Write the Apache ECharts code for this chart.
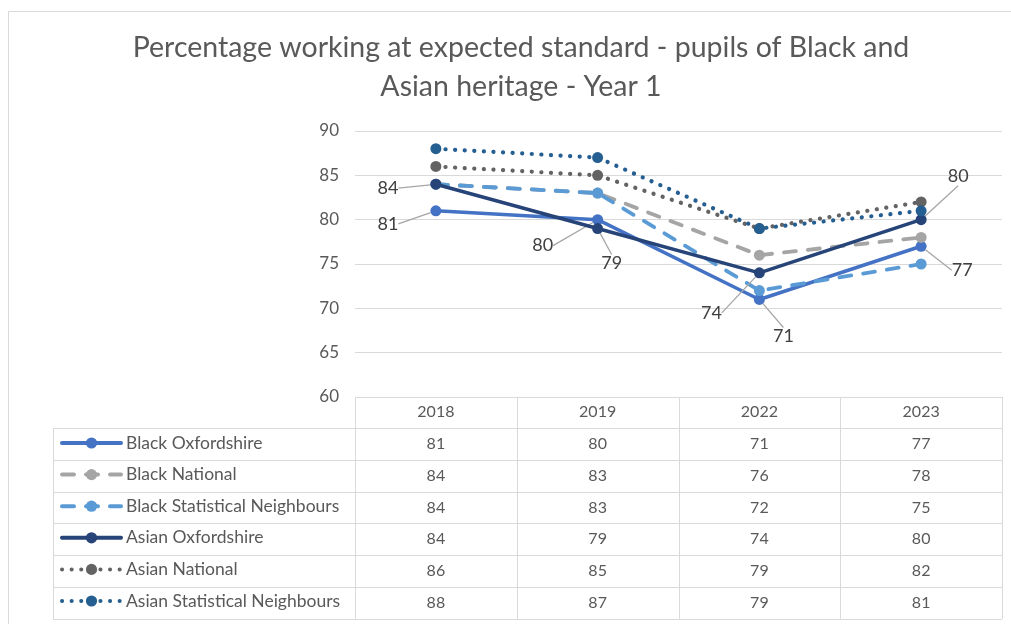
<!DOCTYPE html>
<html><head><meta charset="utf-8">
<script src="https://cdn.jsdelivr.net/npm/echarts@6/dist/echarts.min.js"></script>
<style>html,body{margin:0;padding:0;background:#fff}#c{width:1011px;height:624px}</style>
</head><body><div id="c"></div>
<script>
// ---- data ----
const categories = ['2018', '2019', '2022', '2023'];
const seriesNames = ['Black Oxfordshire', 'Black National', 'Black Statistical Neighbours',
  'Asian Oxfordshire', 'Asian National', 'Asian Statistical Neighbours'];
const blackOxfordshire = [81, 80, 71, 77];
const blackNational = [84, 83, 76, 78];
const blackStatNeighbours = [84, 83, 72, 75];
const asianOxfordshire = [84, 79, 74, 80];
const asianNational = [86, 85, 79, 82];
const asianStatNeighbours = [88, 87, 79, 81];
const yMin = 60, yMax = 90, yStep = 5;
const titleLines = ['Percentage working at expected standard - pupils of Black and', 'Asian heritage - Year 1'];

// ---- styles ----
const FONT = 'Lato, "Noto Sans", sans-serif';
const allData = [blackOxfordshire, blackNational, blackStatNeighbours, asianOxfordshire, asianNational, asianStatNeighbours];
const colors = ['#4472C4', '#A5A5A5', '#5B9BD5', '#264478', '#636363', '#255E91'];
const lineTypes = ['solid', [12, 12], [12, 12], 'solid', [0.1, 9.5], [0.1, 9.5]];
const lineWidths = [3.5, 3.8, 3.8, 3.5, 4.2, 4.2];
const caps = ['round', 'round', 'round', 'round', 'round', 'round'];
// label offsets (dx, dy from point) for labelled series
const labelOffsets = {
  0: [[-48, 13], [-55, 26], [24, 37], [41, 24]],
  3: [[-48, 4], [14, 35], [-48, 40], [37, -43]]
};

const chart = echarts.init(document.getElementById('c'), null, {renderer: 'canvas'});

const series = allData.map((d, i) => {
  const s = {
    name: seriesNames[i],
    type: 'line',
    data: d,
    z: 2 + i,
    symbol: 'circle',
    symbolSize: 11,
    showAllSymbol: true,
    color: colors[i],
    itemStyle: {color: colors[i]},
    lineStyle: {color: colors[i], width: lineWidths[i], type: lineTypes[i], cap: caps[i], join: 'round'},
    emphasis: {disabled: true},
    label: {show: false}
  };
  if (labelOffsets[i]) {
    const offs = labelOffsets[i];
    s.label = {show: true, position: 'inside', formatter: '{c}', color: '#404040', fontSize: 18, fontFamily: FONT};
    s.labelLine = {show: true, lineStyle: {color: '#A6A6A6', width: 1.3}};
    s.labelLayout = function (p) {
      const o = offs[p.dataIndex];
      return {dx: o[0], dy: o[1]};
    };
  }
  return s;
});

const option = {
  animation: false,
  backgroundColor: '#fff',
  title: {
    text: titleLines.join('\n'),
    left: 521, top: 28, textAlign: 'center', padding: 0,
    textStyle: {color: '#595959', fontSize: 28.5, fontWeight: 'normal', fontFamily: FONT, lineHeight: 39}
  },
  legend: {
    data: seriesNames,
    orient: 'vertical',
    left: 60, top: 434, padding: 0,
    itemWidth: 59, itemHeight: 14, itemGap: 13.6,
    selectedMode: false,
    lineStyle: {width: 4},
    textStyle: {color: '#595959', fontSize: 17.5, fontFamily: FONT, lineHeight: 14}
  },
  grid: {left: 355, right: 9, top: 131, bottom: 227, containLabel: false},
  xAxis: {
    type: 'category', data: categories, boundaryGap: true,
    axisLine: {show: false}, axisTick: {show: false},
    axisLabel: {color: '#595959', fontSize: 16, fontFamily: FONT, margin: 7}
  },
  yAxis: {
    type: 'value', min: yMin, max: yMax, interval: yStep,
    axisLine: {show: false}, axisTick: {show: false},
    axisLabel: {color: '#595959', fontSize: 17, fontFamily: FONT, margin: 16},
    splitLine: {lineStyle: {color: '#D9D9D9', width: 1}}
  },
  series: series
};
chart.setOption(option);

// ---- data table built from the axis scale ----
const x0 = chart.convertToPixel({xAxisIndex: 0}, categories[0]);
const x1 = chart.convertToPixel({xAxisIndex: 0}, categories[1]);
const band = x1 - x0;
const colLeft = x0 - band / 2;
const colRight = colLeft + band * categories.length;
const tableTop = chart.convertToPixel({yAxisIndex: 0}, yMin);
const headerH = 31;
const rowH = 31.8;
const tableLeft = 53;
const bodyTop = tableTop + headerH;
const tableBottom = bodyTop + rowH * seriesNames.length;
const lineColor = '#D9D9D9';
const g = [];
function hline(xa, xb, y) {
  g.push({type: 'line', silent: true, z: 1, shape: {x1: xa, y1: Math.round(y) + 0.5, x2: xb, y2: Math.round(y) + 0.5}, style: {stroke: lineColor, lineWidth: 1}});
}
function vline(x, ya, yb) {
  g.push({type: 'line', silent: true, z: 1, shape: {x1: Math.round(x) + 0.5, y1: ya, x2: Math.round(x) + 0.5, y2: yb}, style: {stroke: lineColor, lineWidth: 1}});
}
// outer chart border
g.push({type: 'rect', silent: true, z: 0, shape: {x: 8.5, y: 11.5, width: 1100, height: 700}, style: {fill: 'none', stroke: '#D9D9D9', lineWidth: 1}});
hline(colLeft, colRight, tableTop);
for (let r = 0; r <= seriesNames.length; r++) hline(tableLeft, colRight, bodyTop + r * rowH);
vline(tableLeft, bodyTop, tableBottom);
for (let c = 0; c <= categories.length; c++) vline(colLeft + c * band, tableTop, tableBottom);
allData.forEach((d, r) => {
  d.forEach((v, c) => {
    g.push({
      type: 'text', silent: true, z: 3,
      x: chart.convertToPixel({xAxisIndex: 0}, categories[c]),
      y: bodyTop + (r + 0.5) * rowH,
      style: {text: String(v), fill: '#595959', fontSize: 16, fontFamily: FONT, align: 'center', verticalAlign: 'middle'}
    });
  });
});
chart.setOption({graphic: g});
</script></body></html>
